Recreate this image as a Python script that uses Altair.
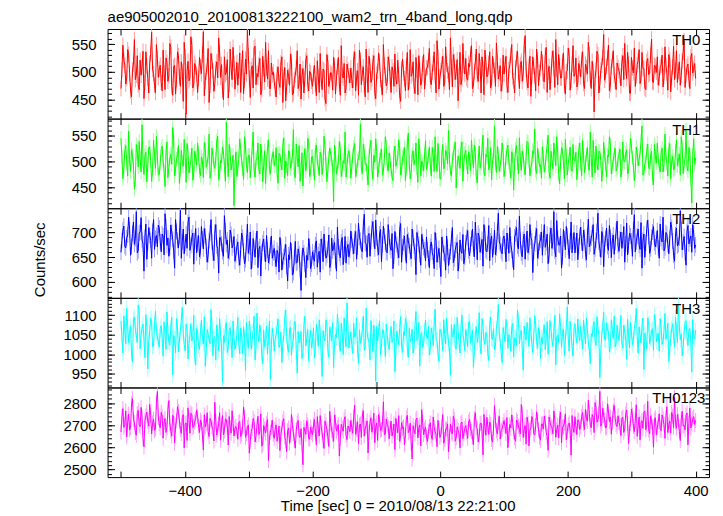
import altair as alt
import pandas as pd

TITLE = "ae905002010_20100813222100_wam2_trn_4band_long.qdp"
X_TITLE = "Time [sec] 0 = 2010/08/13 22:21:00"
Y_TITLE = "Counts/sec"
BANDS = ["TH0", "TH1", "TH2", "TH3", "TH0123"]
COLORS = ["#ff0000", "#00ff00", "#0000ff", "#00ffff", "#ff00ff"]
ERR_COLORS = ["#ff9a9a", "#9aff9a", "#9a9aff", "#a8ffff", "#ff9aff"]
TIME = list(range(-500, 401, 3))            # bin times of the first value set
TIME_HALF = [t + 1.5 for t in TIME[:-1]]    # bin times of the interleaved value set
X_DOMAIN = [-521, 421]
X_TICKS = [-500, -400, -300, -200, -100, 0, 100, 200, 300, 400]
X_LABELS = [-400, -200, 0, 200, 400]
Y_DOMAINS = [[416, 577], [410, 583], [568, 749], [915, 1144], [2466, 2871]]
Y_MAJOR = [[450, 500, 550], [450, 500, 550], [600, 650, 700],
           [950, 1000, 1050, 1100], [2500, 2600, 2700, 2800]]
Y_MINOR_STEP = [10, 10, 10, 10, 20]
ERR = [14, 14, 16, 20, 34]

TH0 = [
    470, 548, 512, 489, 531, 466, 503, 558, 494, 477, 521, 509, 452, 536, 488, 515, 571, 497, 463, 524,
    505, 481, 539, 468, 517, 493, 544, 458, 512, 486, 529, 474, 501, 553, 424, 519, 490, 547, 478, 508,
    463, 526, 497, 572, 484, 511, 445, 533, 502, 479, 518, 561, 490, 467, 527, 499, 453, 541, 486, 515,
    492, 476, 534, 508, 461, 523, 575, 489, 504, 471, 546, 497, 513, 459, 528, 482, 507, 538, 470, 495,
    483, 455, 509, 472, 527, 490, 448, 503, 476, 519, 461, 494, 538, 479, 451, 506, 487, 529, 466, 498,
    474, 512, 457, 491, 533, 468, 502, 443, 517, 484, 496, 526, 460, 509, 478, 547, 489, 462, 514, 493,
    507, 471, 536, 489, 458, 521, 498, 476, 541, 463, 510, 487, 529, 452, 501, 518, 472, 549, 494, 481,
    516, 463, 502, 532, 478, 495, 447, 523, 488, 511, 467, 540, 497, 474, 526, 459, 505, 483, 531, 490,
    508, 542, 477, 515, 493, 556, 469, 502, 528, 481, 514, 496, 561, 473, 519, 500, 448, 535, 487, 512,
    524, 485, 509, 547, 476, 518, 494, 533, 462, 506, 539, 491, 515, 471, 528, 503, 552, 487, 511, 479,
    496, 528, 463, 512, 549, 484, 507, 537, 470, 519, 498, 565, 481, 510, 456, 527, 493, 541, 475, 506,
    517, 482, 544, 499, 468, 523, 506, 558, 477, 511, 489, 534, 460, 502, 528, 485, 547, 496, 473, 515,
    491, 536, 470, 508, 553, 487, 519, 428, 503, 531, 478, 512, 567, 494, 525, 466, 509, 538, 483, 516,
    502, 475, 529, 551, 488, 514, 461, 507, 543, 492, 520, 479, 535, 506, 468, 524, 497, 559, 481, 510,
    527, 489, 512, 473, 545, 498, 531, 464, 509, 486, 538, 501, 476, 520, 556, 493, 514, 470, 533, 505,
    488,
]
TH0_HALF = [
    503, 521, 478, 540, 497, 455, 514, 486, 529, 468, 494, 537, 481, 510, 462, 533, 505, 476, 549, 490,
    512, 466, 498, 525, 483, 551, 474, 509, 460, 536, 492, 518, 447, 527, 501, 484, 563, 471, 515, 496,
    488, 509, 531, 457, 499, 542, 476, 520, 465, 506, 489, 534, 513, 450, 495, 522, 478, 507, 544, 469,
    517, 502, 463, 538, 485, 496, 529, 454, 511, 543, 477, 491, 524, 468, 506, 553, 487, 470, 516, 500,
    469, 497, 481, 516, 445, 508, 473, 492, 532, 459, 486, 507, 470, 514, 493, 462, 521, 478, 501, 483,
    496, 478, 520, 463, 487, 505, 452, 531, 474, 499, 467, 511, 489, 526, 458, 494, 515, 471, 503, 480,
    485, 523, 466, 502, 539, 477, 509, 455, 494, 528, 481, 517, 463, 496, 534, 486, 459, 512, 475, 527,
    491, 509, 474, 487, 521, 457, 505, 498, 466, 535, 483, 492, 518, 461, 503, 529, 476, 514, 469, 507,
    520, 484, 499, 536, 462, 527, 491, 513, 474, 545, 502, 468, 509, 531, 486, 522, 493, 477, 551, 496,
    488, 515, 532, 470, 501, 541, 483, 508, 527, 459, 517, 494, 536, 480, 511, 474, 519, 498, 465, 530,
    513, 476, 504, 530, 491, 462, 524, 497, 513, 483, 547, 505, 471, 528, 492, 510, 466, 521, 499, 537,
    484, 529, 463, 510, 494, 538, 472, 505, 531, 489, 518, 476, 500, 543, 467, 514, 492, 525, 481, 506,
    522, 479, 514, 496, 531, 470, 501, 489, 537, 462, 503, 526, 485, 510, 548, 477, 521, 494, 468, 508,
    493, 517, 486, 507, 535, 462, 526, 498, 474, 513, 540, 488, 506, 471, 519, 495, 530, 482, 512, 499,
    476, 508, 530, 492, 511, 467, 522, 489, 546, 503, 481, 518, 494, 535, 472, 509, 487, 527, 498, 515,
]
TH1 = [
    545, 467, 520, 498, 559, 481, 512, 447, 533, 490, 506, 571, 475, 518, 494, 529, 462, 541, 487, 510,
    476, 523, 501, 452, 538, 489, 514, 566, 472, 505, 531, 484, 499, 543, 460, 517, 493, 526, 478, 508,
    536, 482, 509, 469, 524, 497, 553, 474, 511, 487, 540, 465, 502, 528, 491, 576, 471, 515, 497, 415,
    519, 488, 544, 503, 466, 530, 479, 512, 495, 557, 470, 507, 485, 534, 461, 521, 498, 542, 476, 509,
    492, 527, 458, 513, 484, 546, 501, 473, 519, 496, 562, 469, 508, 531, 486, 453, 525, 499, 537, 478,
    510, 464, 532, 490, 518, 475, 549, 497, 483, 526, 505, 423, 514, 488, 539, 471, 502, 557, 493, 521,
    468, 511, 535, 482, 506, 573, 477, 520, 496, 455, 529, 487, 512, 544, 470, 503, 524, 481, 548, 492,
    517, 486, 463, 530, 499, 542, 474, 508, 527, 489, 555, 467, 513, 494, 536, 460, 519, 501, 482, 540,
    495, 528, 472, 514, 548, 481, 507, 466, 533, 491, 517, 560, 478, 503, 525, 449, 511, 487, 538, 499,
    522, 476, 505, 541, 488, 516, 459, 530, 497, 551, 473, 509, 484, 527, 502, 568, 479, 514, 493, 536,
    471, 507, 532, 490, 519, 445, 524, 498, 546, 483, 511, 475, 539, 502, 488, 521, 563, 477, 509, 494,
    529, 480, 515, 551, 468, 504, 536, 492, 518, 457, 527, 499, 543, 474, 510, 486, 533, 501, 465, 522,
    497, 541, 478, 513, 489, 557, 470, 506, 530, 484, 519, 462, 537, 495, 512, 548, 476, 503, 526, 487,
    514, 470, 538, 499, 523, 481, 545, 507, 463, 528, 492, 516, 569, 478, 501, 534, 486, 520, 455, 509,
    536, 491, 517, 480, 553, 498, 524, 467, 510, 487, 542, 503, 475, 529, 494, 561, 482, 515, 420, 544,
    507,
]
TH1_HALF = [
    509, 488, 531, 472, 504, 523, 493, 466, 518, 539, 480, 497, 512, 461, 527, 502, 485, 513, 549, 474,
    498, 530, 481, 517, 469, 507, 495, 542, 486, 513, 458, 522, 491, 509, 535, 478, 501, 464, 520, 493,
    515, 473, 502, 537, 489, 510, 468, 526, 494, 505, 549, 477, 498, 519, 462, 507, 533, 484, 512, 490,
    471, 506, 523, 486, 548, 495, 512, 469, 527, 483, 503, 536, 476, 514, 492, 458, 528, 487, 501, 519,
    503, 479, 516, 496, 530, 468, 493, 521, 487, 511, 475, 534, 490, 462, 517, 501, 482, 545, 471, 509,
    486, 522, 499, 473, 511, 494, 528, 461, 507, 515, 489, 532, 476, 500, 523, 484, 496, 470, 514, 505,
    490, 527, 471, 502, 516, 488, 533, 495, 478, 510, 541, 466, 499, 520, 485, 512, 474, 506, 529, 482,
    502, 470, 518, 491, 507, 525, 483, 514, 463, 536, 498, 479, 521, 506, 488, 544, 472, 495, 513, 484,
    511, 493, 527, 481, 499, 535, 467, 510, 486, 522, 496, 504, 473, 517, 538, 489, 501, 526, 462, 515,
    497, 519, 483, 509, 532, 470, 503, 488, 524, 478, 514, 545, 492, 465, 510, 498, 529, 481, 506, 517,
    485, 524, 499, 468, 512, 495, 531, 476, 503, 520, 488, 509, 537, 472, 497, 515, 484, 526, 491, 468,
    507, 492, 531, 479, 520, 486, 513, 548, 475, 500, 522, 467, 510, 496, 528, 481, 505, 518, 489, 536,
    473, 512, 498, 527, 483, 506, 541, 478, 497, 520, 502, 485, 514, 471, 509, 532, 490, 516, 482, 505,
    524, 487, 501, 516, 476, 509, 530, 492, 483, 518, 505, 539, 474, 496, 521, 488, 511, 469, 533, 497,
    503, 480, 526, 494, 511, 472, 535, 499, 484, 520, 492, 515, 548, 477, 506, 490, 527, 468, 512, 495,
]
TH2 = [
    660, 705, 672, 689, 731, 654, 698, 676, 742, 663, 701, 685, 622, 717, 679, 694, 648, 726, 688, 671,
    709, 661, 693, 738, 674, 652, 715, 686, 628, 702, 669, 745, 681, 657, 697, 720, 664, 690, 636, 708,
    678, 651, 712, 667, 693, 640, 684, 726, 659, 701, 673, 618, 689, 662, 734, 676, 648, 705, 669, 692,
    655, 681, 634, 699, 662, 645, 717, 671, 626, 688, 650, 703, 666, 612, 679, 657, 694, 639, 674, 648,
    668, 631, 657, 690, 624, 651, 676, 602, 645, 663, 619, 682, 640, 657, 583, 669, 636, 654, 688, 627,
    661, 642, 683, 655, 620, 674, 697, 648, 666, 629, 689, 670, 643, 711, 658, 681, 635, 692, 667, 651,
    703, 672, 688, 646, 719, 684, 661, 737, 677, 694, 652, 708, 686, 725, 669, 697, 641, 713, 680, 659,
    690, 664, 627, 702, 676, 649, 718, 671, 693, 638, 684, 660, 707, 673, 615, 688, 655, 696, 670, 643,
    665, 629, 681, 652, 700, 640, 668, 611, 676, 656, 693, 633, 661, 710, 647, 674, 622, 685, 658, 637,
    679, 704, 653, 688, 667, 721, 645, 692, 674, 632, 698, 661, 714, 683, 650, 705, 669, 739, 676, 657,
    693, 641, 682, 710, 664, 625, 697, 673, 733, 658, 686, 646, 703, 671, 690, 619, 677, 708, 662, 685,
    654, 716, 679, 637, 695, 668, 742, 651, 689, 674, 628, 706, 665, 693, 647, 721, 682, 659, 699, 672,
    711, 663, 690, 645, 727, 677, 698, 656, 684, 739, 667, 702, 631, 688, 672, 714, 649, 695, 680, 723,
    662, 701, 685, 640, 719, 674, 693, 652, 736, 681, 707, 666, 628, 697, 679, 725, 658, 690, 712, 671,
    704, 648, 688, 731, 669, 696, 657, 721, 683, 642, 709, 676, 744, 665, 692, 634, 714, 687, 660, 699,
    675,
]
TH2_HALF = [
    684, 713, 669, 695, 706, 672, 721, 688, 659, 699, 730, 677, 691, 646, 710, 684, 702, 666, 694, 715,
    681, 697, 655, 712, 689, 670, 701, 663, 726, 684, 692, 648, 707, 678, 668, 731, 674, 699, 683, 659,
    694, 663, 687, 708, 672, 655, 699, 681, 643, 716, 668, 690, 677, 652, 703, 685, 661, 696, 675, 642,
    671, 648, 666, 690, 637, 679, 658, 701, 644, 668, 683, 629, 672, 660, 687, 641, 665, 652, 693, 659,
    647, 664, 620, 671, 643, 660, 632, 655, 680, 614, 650, 638, 667, 625, 648, 659, 609, 644, 671, 636,
    649, 675, 630, 662, 687, 641, 668, 654, 695, 637, 663, 680, 622, 671, 649, 690, 657, 638, 676, 664,
    685, 657, 702, 671, 690, 664, 712, 679, 650, 698, 682, 722, 667, 689, 655, 706, 676, 693, 661, 716,
    671, 698, 652, 684, 663, 706, 640, 679, 658, 696, 673, 647, 689, 661, 700, 676, 634, 682, 665, 691,
    648, 672, 660, 627, 683, 655, 644, 691, 659, 624, 670, 651, 688, 639, 665, 680, 643, 662, 696, 650,
    690, 663, 675, 707, 651, 682, 699, 660, 686, 716, 664, 677, 643, 693, 671, 655, 702, 681, 662, 688,
    672, 699, 658, 676, 645, 691, 710, 667, 684, 651, 697, 678, 659, 716, 683, 662, 694, 648, 680, 701,
    688, 670, 697, 655, 709, 681, 663, 724, 676, 693, 651, 687, 712, 670, 683, 659, 700, 675, 645, 692,
    679, 705, 658, 694, 671, 689, 716, 667, 702, 681, 650, 695, 676, 709, 664, 690, 683, 656, 703, 674,
    687, 668, 712, 677, 655, 699, 683, 706, 661, 693, 674, 720, 684, 650, 708, 692, 667, 701, 679, 686,
    669, 717, 681, 663, 700, 676, 688, 710, 654, 695, 673, 689, 706, 681, 659, 702, 677, 693, 716, 668,
]
TH3 = [
    1085, 1003, 1062, 1117, 1029, 1071, 980, 1095, 1048, 1126, 1014, 1066, 1039, 1101, 962, 1057, 1083, 1021, 1110, 1044,
    1018, 1073, 995, 1052, 1108, 1031, 1067, 947, 1040, 1091, 1006, 1059, 1120, 1025, 1077, 988, 1048, 1034, 1099, 972,
    1056, 1012, 1087, 1027, 969, 1063, 1038, 1114, 996, 1045, 1075, 1009, 1052, 928, 1030, 1081, 1017, 1068, 991, 1042,
    1023, 1094, 1001, 1049, 1070, 958, 1036, 1085, 1013, 1060, 985, 1105, 1032, 1054, 976, 1019, 1072, 1043, 935, 1066,
    1008, 1051, 1090, 1026, 979, 1047, 1113, 1015, 1064, 997, 1037, 1082, 951, 1029, 1058, 1004, 1097, 1040, 983, 1061,
    1033, 990, 1076, 1020, 1055, 943, 1041, 1088, 1011, 1069, 1035, 966, 1050, 1102, 1024, 1079, 999, 1046, 1131, 1016,
    1057, 1002, 1044, 1093, 977, 1028, 1065, 1010, 1118, 1039, 986, 1053, 1074, 931, 1034, 1085, 1021, 1060, 994, 1047,
    1012, 1071, 1037, 955, 1059, 1024, 1096, 1005, 1048, 1080, 992, 1031, 1064, 1018, 1109, 1043, 970, 1055, 1027, 1087,
    1040, 998, 1067, 1022, 1115, 1035, 981, 1062, 1009, 1050, 1092, 1028, 946, 1045, 1076, 1014, 1058, 1003, 1100, 1036,
    1063, 1019, 1084, 1041, 967, 1053, 1030, 1106, 1001, 1072, 1025, 1049, 984, 1095, 1038, 1011, 1066, 1127, 1033, 978,
    1052, 1089, 1015, 1044, 1070, 993, 1037, 1112, 1027, 1061, 959, 1046, 1081, 1020, 1057, 1004, 1098, 1032, 1068, 989,
    1026, 1075, 1042, 1000, 1086, 1034, 1059, 973, 1048, 1103, 1017, 1064, 1039, 1121, 1008, 1055, 995, 1078, 1029, 1050,
    1071, 1013, 1058, 1092, 1031, 976, 1045, 1083, 1023, 1067, 940, 1051, 1107, 1036, 1062, 1006, 1088, 1040, 1019, 1074,
    1035, 1099, 1016, 1056, 987, 1047, 1082, 1024, 1065, 1117, 1003, 1049, 1072, 961, 1038, 1093, 1027, 1060, 1010, 1084,
    1047, 1008, 1069, 1031, 1104, 1053, 982, 1041, 1078, 1018, 1063, 1125, 1037, 996, 1057, 1086, 1022, 1066, 954, 1045,
    1061,
]
TH3_HALF = [
    1042, 1098, 1027, 1071, 1056, 1003, 1089, 1064, 1030, 1109, 1051, 1077, 991, 1068, 1035, 1092, 1019, 1074, 1058, 1033,
    1065, 1041, 1082, 1012, 1057, 1023, 1094, 1048, 1003, 1070, 1036, 1087, 1053, 1009, 1061, 1029, 1078, 1045, 994, 1066,
    1021, 1060, 1044, 1096, 1008, 1051, 1027, 1073, 1039, 985, 1056, 1091, 1018, 1047, 1070, 1004, 1063, 1033, 1085, 1012,
    1052, 1029, 1067, 1002, 1043, 1081, 1015, 1058, 1036, 1097, 1021, 1049, 1075, 996, 1062, 1038, 1001, 1085, 1024, 1046,
    1039, 1072, 1017, 1056, 1028, 1093, 1046, 1005, 1069, 1031, 1084, 1012, 1058, 1037, 989, 1074, 1022, 1063, 1041, 1016,
    1067, 1021, 1049, 1088, 1003, 1060, 1034, 1075, 992, 1052, 1081, 1027, 1043, 1069, 1008, 1056, 1093, 1019, 1064, 1038,
    1025, 1079, 1048, 1011, 1062, 1036, 1097, 1018, 1054, 1031, 1086, 1007, 1042, 1071, 1059, 998, 1063, 1040, 1077, 1023,
    1049, 1030, 1085, 1009, 1044, 1068, 1021, 1057, 1092, 1014, 1066, 1039, 1003, 1073, 1035, 1081, 1052, 1017, 1061, 1044,
    1071, 1018, 1053, 1079, 1037, 1002, 1064, 1043, 1088, 1026, 1059, 1012, 1075, 1048, 1020, 1094, 1033, 1067, 1050, 1009,
    1045, 1082, 1028, 1061, 1010, 1070, 1047, 1019, 1091, 1034, 1056, 1002, 1076, 1040, 1065, 1023, 1086, 1051, 1004, 1068,
    1031, 1066, 1050, 1007, 1079, 1042, 1022, 1087, 1055, 1013, 1072, 1036, 1060, 1093, 1029, 1046, 1075, 1015, 1057, 1043,
    1058, 1012, 1083, 1037, 1064, 1020, 1099, 1045, 1030, 1071, 1055, 996, 1068, 1041, 1084, 1018, 1062, 1047, 1090, 1035,
    1042, 1087, 1026, 1064, 1011, 1052, 1073, 1034, 1096, 1049, 1005, 1069, 1038, 1080, 1057, 1022, 1063, 1097, 1030, 1051,
    1066, 1028, 1074, 1043, 1089, 1016, 1058, 1037, 1081, 1045, 1070, 1029, 1092, 1054, 1013, 1077, 1040, 1065, 1101, 1032,
    1054, 1091, 1025, 1060, 1038, 1079, 1013, 1066, 1047, 1094, 1030, 1072, 1051, 1017, 1083, 1046, 1064, 1028, 1088, 1039,
]
TH0123 = [
    2670, 2776, 2702, 2648, 2751, 2689, 2820, 2713, 2655, 2768, 2694, 2736, 2603, 2742, 2719, 2795, 2661, 2728, 2684, 2853,
    2707, 2758, 2642, 2731, 2690, 2812, 2676, 2745, 2620, 2722, 2763, 2681, 2735, 2598, 2711, 2779, 2664, 2748, 2696, 2728,
    2741, 2668, 2712, 2589, 2693, 2757, 2649, 2720, 2682, 2804, 2656, 2706, 2633, 2744, 2675, 2725, 2611, 2689, 2766, 2652,
    2695, 2637, 2718, 2660, 2783, 2646, 2690, 2574, 2672, 2731, 2625, 2697, 2658, 2752, 2614, 2683, 2709, 2541, 2668, 2723,
    2641, 2702, 2655, 2586, 2687, 2730, 2630, 2676, 2619, 2749, 2663, 2597, 2711, 2652, 2685, 2522, 2674, 2721, 2640, 2693,
    2658, 2727, 2612, 2681, 2744, 2668, 2596, 2701, 2649, 2763, 2677, 2628, 2716, 2690, 2561, 2705, 2673, 2739, 2635, 2688,
    2722, 2664, 2791, 2683, 2617, 2706, 2742, 2651, 2698, 2575, 2713, 2669, 2755, 2694, 2632, 2726, 2681, 2806, 2660, 2704,
    2639, 2719, 2673, 2590, 2697, 2744, 2655, 2686, 2612, 2733, 2667, 2709, 2548, 2679, 2725, 2643, 2702, 2771, 2658, 2691,
    2627, 2695, 2652, 2738, 2671, 2604, 2688, 2657, 2749, 2636, 2683, 2580, 2706, 2661, 2727, 2644, 2677, 2598, 2715, 2665,
    2698, 2641, 2726, 2672, 2613, 2757, 2684, 2650, 2710, 2567, 2693, 2736, 2659, 2702, 2624, 2789, 2676, 2712, 2638, 2685,
    2721, 2663, 2599, 2704, 2747, 2670, 2628, 2716, 2682, 2794, 2645, 2699, 2737, 2607, 2688, 2725, 2656, 2761, 2679, 2633,
    2706, 2742, 2668, 2587, 2714, 2689, 2765, 2646, 2701, 2730, 2621, 2694, 2752, 2673, 2711, 2565, 2686, 2739, 2658, 2720,
    2695, 2758, 2681, 2733, 2814, 2702, 2749, 2667, 2781, 2726, 2853, 2708, 2744, 2689, 2797, 2717, 2660, 2766, 2731, 2694,
    2712, 2653, 2737, 2685, 2769, 2618, 2708, 2746, 2671, 2793, 2698, 2634, 2721, 2759, 2680, 2808, 2662, 2716, 2601, 2734,
    2690, 2752, 2676, 2729, 2641, 2784, 2703, 2665, 2741, 2826, 2687, 2718, 2631, 2763, 2699, 2745, 2612, 2778, 2706, 2739,
    2722,
]
TH0123_HALF = [
    2738, 2691, 2765, 2714, 2680, 2797, 2727, 2668, 2753, 2702, 2781, 2641, 2722, 2760, 2696, 2745, 2710, 2677, 2803, 2733,
    2689, 2742, 2715, 2668, 2771, 2706, 2651, 2737, 2699, 2784, 2719, 2663, 2748, 2707, 2632, 2726, 2755, 2690, 2716, 2769,
    2697, 2723, 2660, 2748, 2709, 2671, 2731, 2692, 2629, 2716, 2683, 2757, 2702, 2658, 2729, 2694, 2740, 2665, 2708, 2687,
    2676, 2712, 2649, 2693, 2738, 2661, 2702, 2628, 2685, 2717, 2654, 2741, 2672, 2606, 2699, 2665, 2726, 2643, 2690, 2659,
    2683, 2628, 2697, 2664, 2716, 2647, 2581, 2688, 2656, 2705, 2633, 2679, 2722, 2645, 2610, 2691, 2659, 2702, 2637, 2668,
    2701, 2664, 2739, 2652, 2693, 2630, 2719, 2682, 2605, 2708, 2660, 2747, 2674, 2703, 2641, 2688, 2725, 2654, 2697, 2671,
    2690, 2738, 2659, 2716, 2701, 2645, 2766, 2687, 2720, 2668, 2734, 2696, 2621, 2711, 2749, 2677, 2705, 2658, 2729, 2692,
    2684, 2652, 2706, 2731, 2667, 2628, 2712, 2693, 2657, 2745, 2674, 2621, 2698, 2662, 2733, 2688, 2607, 2714, 2679, 2646,
    2672, 2711, 2636, 2689, 2658, 2722, 2645, 2696, 2619, 2683, 2707, 2650, 2668, 2741, 2628, 2693, 2662, 2709, 2640, 2686,
    2669, 2715, 2683, 2647, 2730, 2691, 2624, 2708, 2673, 2749, 2655, 2697, 2715, 2636, 2688, 2722, 2660, 2741, 2677, 2703,
    2694, 2735, 2657, 2688, 2712, 2643, 2724, 2696, 2661, 2752, 2681, 2615, 2709, 2677, 2740, 2662, 2698, 2721, 2646, 2705,
    2683, 2714, 2650, 2738, 2697, 2662, 2726, 2681, 2643, 2759, 2692, 2710, 2634, 2702, 2675, 2744, 2668, 2696, 2725, 2681,
    2741, 2707, 2772, 2718, 2756, 2689, 2735, 2802, 2714, 2750, 2696, 2777, 2725, 2691, 2760, 2738, 2712, 2791, 2704, 2743,
    2697, 2731, 2668, 2752, 2709, 2684, 2774, 2695, 2722, 2650, 2738, 2711, 2686, 2765, 2702, 2679, 2743, 2692, 2724, 2658,
    2716, 2683, 2747, 2704, 2735, 2667, 2719, 2758, 2690, 2713, 2749, 2673, 2728, 2697, 2680, 2756, 2709, 2688, 2731, 2704,
]
SERIES = [TH0, TH1, TH2, TH3, TH0123]
SERIES_HALF = [TH0_HALF, TH1_HALF, TH2_HALF, TH3_HALF, TH0123_HALF]

W, H = 604, 90
FONT = "Liberation Sans"
LABEL_X = [567, 567, 567, 567, 547]


def minor_ticks(dom, step):
    lo, hi = dom
    start = (int(lo) // step + 1) * step
    return list(range(start, int(hi) + 1, step))


def tick_axis(orient, values, size, offset):
    return alt.Axis(orient=orient, values=values, labels=False, domain=False, grid=False,
                    title=None, ticks=True, tickSize=size, tickColor="black", tickWidth=1,
                    offset=offset)


def series_frame(k):
    a, b = SERIES[k], SERIES_HALF[k]
    na, nb = min(len(a), len(TIME)), min(len(b), len(TIME_HALF))
    df = pd.concat([
        pd.DataFrame({"t": TIME[:na], "v": a[:na]}),
        pd.DataFrame({"t": TIME_HALF[:nb], "v": b[:nb]}),
    ]).sort_values("t").reset_index(drop=True)
    df["lo"] = df["v"] - ERR[k]
    df["hi"] = df["v"] + ERR[k]
    return df


def panel(k):
    df = series_frame(k)
    xs = alt.Scale(domain=X_DOMAIN, nice=False, zero=False)
    ys = alt.Scale(domain=Y_DOMAINS[k], nice=False, zero=False, clamp=True)
    minors = minor_ticks(Y_DOMAINS[k], Y_MINOR_STEP[k])
    base = alt.Chart(df)

    yargs = dict(orient="left", values=Y_MAJOR[k], format="d", ticks=False, tickSize=0,
                 labelPadding=11.5, domain=False, grid=False, labelFont=FONT,
                 labelFontSize=15, labelColor="black")
    if k == 2:
        yargs.update(title=Y_TITLE, titleFont=FONT, titleFontSize=15, titleFontWeight="normal",
                     titleColor="black", titleX=-63, titleY=51.3, titleAngle=-90,
                     titleBaseline="alphabetic", titleAlign="center")
    else:
        yargs.update(title=None)

    err = base.mark_rule(color=ERR_COLORS[k], strokeWidth=1).encode(
        x=alt.X("t:Q", scale=xs, axis=tick_axis("bottom", X_TICKS, 6, -H)),
        y=alt.Y("lo:Q", scale=ys, axis=alt.Axis(**yargs)),
        y2="hi:Q",
    )
    line = base.mark_line(color=COLORS[k], strokeWidth=1).encode(
        x=alt.X("t:Q", scale=xs, axis=tick_axis("top", X_TICKS, 6, -H)),
        y=alt.Y("v:Q", scale=ys, axis=tick_axis("right", Y_MAJOR[k], 7, -W)),
    )
    if k == 4:
        xb = alt.Axis(orient="bottom", values=X_LABELS, ticks=False, tickSize=0, domain=False,
                      grid=False, labelPadding=6, labelFont=FONT, labelFontSize=15,
                      labelColor="black", title=X_TITLE, titleFont=FONT, titleFontSize=15,
                      titleFontWeight="normal", titleColor="black", titleX=291.3, titleY=34,
                      titleBaseline="alphabetic", titleAlign="center")
    else:
        xb = None
    inv1 = base.mark_line(opacity=0).encode(
        x=alt.X("t:Q", scale=xs, axis=xb),
        y=alt.Y("v:Q", scale=ys, axis=tick_axis("right", minors, 4, -W)),
    )
    inv2 = base.mark_line(opacity=0).encode(
        x=alt.X("t:Q", scale=xs, axis=None),
        y=alt.Y("v:Q", scale=ys, axis=tick_axis("left", Y_MAJOR[k], 7, -W)),
    )
    inv3 = base.mark_line(opacity=0).encode(
        x=alt.X("t:Q", scale=xs, axis=None),
        y=alt.Y("v:Q", scale=ys, axis=tick_axis("left", minors, 4, -W)),
    )
    label = alt.Chart(pd.DataFrame({"label": [BANDS[k]]})).mark_text(
        align="left", baseline="top", font=FONT, fontSize=15, color="black"
    ).encode(x=alt.value(LABEL_X[k]), y=alt.value(4), text="label:N")

    layers = [err, line, inv1, inv2, inv3, label]
    if k == 0:
        title = alt.Chart(pd.DataFrame({"title": [TITLE]})).mark_text(
            align="left", baseline="alphabetic", font=FONT, fontSize=15, color="black"
        ).encode(x=alt.value(0), y=alt.value(-7), text="title:N")
        layers.append(title)

    return alt.layer(*layers).resolve_axis(
        x="independent", y="independent"
    ).properties(width=W, height=H)


chart = alt.vconcat(*[panel(k) for k in range(5)], spacing=0, bounds="flush").configure_view(
    stroke="black", strokeWidth=1
).properties(
    padding={"left": 24, "top": 0, "right": 5, "bottom": 5},
    background="white",
)

chart.save("out.html", embed_options={"renderer": "svg", "actions": False})
